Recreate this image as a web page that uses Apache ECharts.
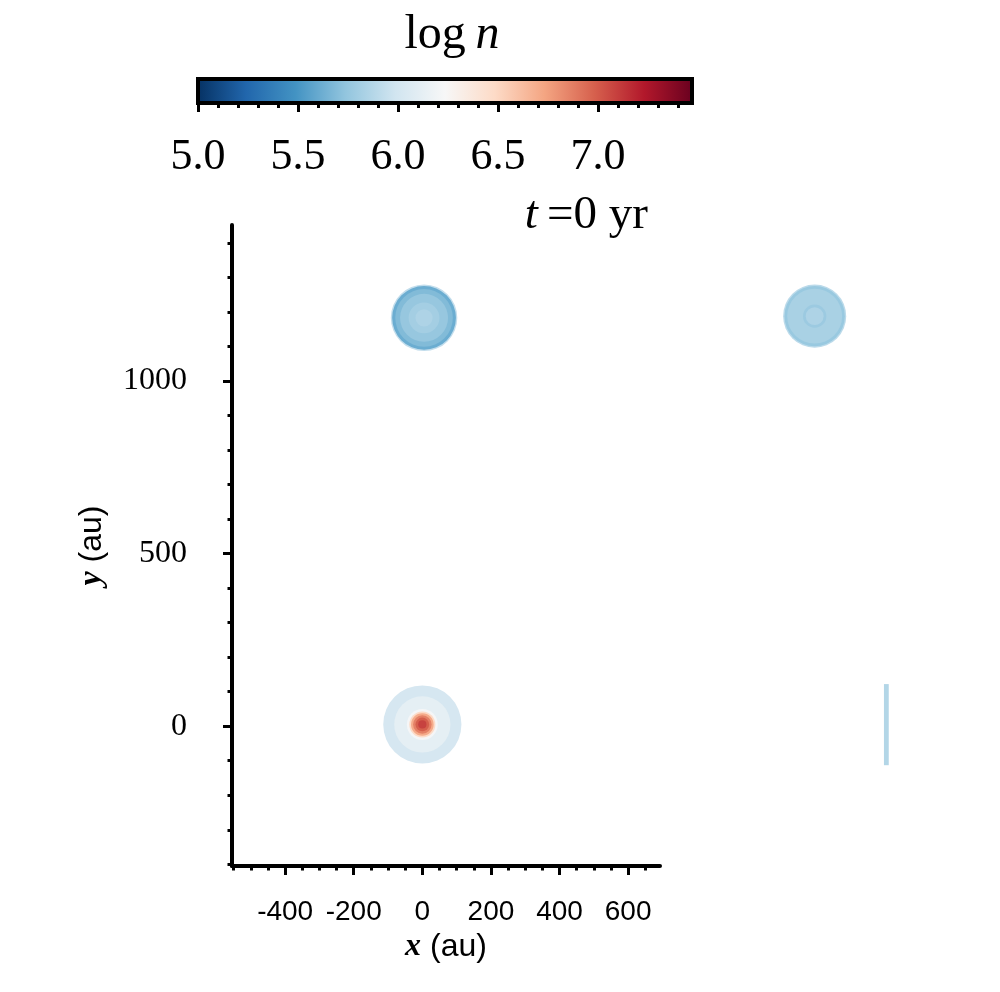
<!DOCTYPE html>
<html>
<head>
<meta charset="utf-8">
<title>log n, t=0 yr</title>
<script src="https://cdn.jsdelivr.net/npm/echarts@6.0.0/dist/echarts.min.js"></script>
<style>
html, body { margin: 0; padding: 0; background: #fff; }
#chart { width: 1000px; height: 992px; }
</style>
</head>
<body>
<div id="chart"></div>
<script>
// colour scale (log n)
var cbarMin = 5.0;
var cbarMax = 7.47;
var cbarMajor = [5.0, 5.5, 6.0, 6.5, 7.0];
var cbarMinor = [5.0, 5.1, 5.2, 5.3, 5.4, 5.5, 5.6, 5.7, 5.8, 5.9, 6.0, 6.1, 6.2,
                 6.3, 6.4, 6.5, 6.6, 6.7, 6.8, 6.9, 7.0, 7.1, 7.2, 7.3, 7.4];
var rdbuR = ['#053061', '#2166ac', '#4393c3', '#92c5de', '#d1e5f0', '#f7f7f7',
             '#fddbc7', '#f4a582', '#d6604d', '#b2182b', '#67001f'];

// axis ticks (au)
var xMajor = [-400, -200, 0, 200, 400, 600];
var xMinor = [-550, -500, -450, -400, -350, -300, -250, -200, -150, -100, -50, 0, 50,
              100, 150, 200, 250, 300, 350, 400, 450, 500, 550, 600, 650];
var yMajor = [0, 500, 1000];
var yMinor = [-400, -300, -200, -100, 0, 100, 200, 300, 400, 500, 600, 700, 800,
              900, 1000, 1100, 1200, 1300, 1400];

// clumps: centre (au), ring radii (au) and log n, outermost ring first
var clumpX = [5, 0, 1144];
var clumpY = [1183, 5, 1188];
var ringRadius = [
    [97, 93, 84, 70, 45, 25],
    [114, 82, 45, 38, 33, 27, 20, 12],
    [92, 88, 80, 34, 26]
];
var ringLogN = [
    [5.93, 5.62, 5.69, 5.76, 5.81, 5.85],
    [6.02, 6.12, 6.22, 6.48, 6.70, 6.86, 6.98, 7.08],
    [5.90, 5.77, 5.83, 5.78, 5.85]
];

// thin strip at the right edge
var stripX = [1346, 1360];
var stripY = [-113, 122];
var stripLogN = 5.87;

var diskRows = [];
for (var i = 0; i < clumpX.length; i++) {
    for (var j = 0; j < ringRadius[i].length; j++) {
        diskRows.push([ringLogN[i][j], clumpX[i], clumpY[i], ringRadius[i][j]]);
    }
}
var stripRows = [[stripLogN, stripX[0], stripY[0], stripX[1], stripY[1]]];

var serif = 'Liberation Serif';
var sans = 'Liberation Sans';

function renderDisk(params, api) {
    var c = api.coord([api.value(1), api.value(2)]);
    var s = api.size([api.value(3), api.value(3)]);
    return {
        type: 'circle',
        shape: { cx: c[0], cy: c[1], r: s[0] },
        style: { fill: api.visual('color') }
    };
}

function renderStrip(params, api) {
    var p0 = api.coord([api.value(1), api.value(2)]);
    var p1 = api.coord([api.value(3), api.value(4)]);
    return {
        type: 'rect',
        shape: { x: p0[0], y: p1[1], width: p1[0] - p0[0], height: p0[1] - p1[1] },
        style: { fill: api.visual('color') }
    };
}

function renderBar(params, api) {
    var p0 = api.coord([api.value(0), api.value(1)]);
    var p1 = api.coord([api.value(2), api.value(3)]);
    var stops = rdbuR.map(function (c, k) { return { offset: k / (rdbuR.length - 1), color: c }; });
    return {
        type: 'rect',
        shape: { x: p0[0], y: p1[1], width: p1[0] - p0[0], height: p0[1] - p1[1] },
        style: {
            fill: new echarts.graphic.LinearGradient(0, 0, 1, 0, stops),
            stroke: '#000',
            lineWidth: 4
        }
    };
}

var tickStyle = { color: '#000', width: 3 };

var chart = echarts.init(document.getElementById('chart'));
chart.setOption({
    animation: false,
    backgroundColor: '#fff',
    title: [{
        text: '{a|log\u2009}{b|n}',
        left: 447,
        top: 6,
        textAlign: 'center',
        textStyle: {
            rich: {
                a: { fontFamily: serif, fontSize: 48, fontWeight: 'normal', color: '#000' },
                b: { fontFamily: serif, fontSize: 48, fontWeight: 'normal', fontStyle: 'italic', color: '#000' }
            }
        }
    }, {
        text: '{b|t}{a|\u2009=0 yr}',
        right: 347,
        top: 187,
        textStyle: {
            rich: {
                a: { fontFamily: serif, fontSize: 47, fontWeight: 'normal', color: '#000' },
                b: { fontFamily: serif, fontSize: 47, fontWeight: 'normal', fontStyle: 'italic', color: '#000' }
            }
        }
    }],
    visualMap: {
        type: 'continuous',
        show: false,
        min: cbarMin,
        max: cbarMax,
        dimension: 0,
        seriesIndex: [0, 1],
        inRange: { color: rdbuR }
    },
    grid: [
        { left: 232, top: 225, width: 428, height: 641 },
        { left: 198, top: 79, width: 494, height: 24 }
    ],
    xAxis: [{
        gridIndex: 0, type: 'value', min: -555, max: 693, position: 'bottom',
        axisLine: { onZero: false, lineStyle: { color: '#000', width: 4 } },
        axisTick: { customValues: xMajor, length: 9, lineStyle: tickStyle },
        axisLabel: { customValues: xMajor, margin: 32, fontFamily: sans, fontSize: 28, color: '#000' },
        splitLine: { show: false },
        name: '{b|x}{s| (au)}',
        nameLocation: 'middle',
        nameGap: 63,
        nameTextStyle: {
            rich: {
                b: { fontFamily: serif, fontSize: 32, fontWeight: 'bold', fontStyle: 'italic', color: '#000' },
                s: { fontFamily: sans, fontSize: 32, color: '#000' }
            }
        }
    }, {
        gridIndex: 0, type: 'value', min: -555, max: 693, position: 'bottom',
        axisLine: { show: false, onZero: false },
        axisTick: { customValues: xMinor, length: 4.5, lineStyle: tickStyle },
        axisLabel: { show: false },
        splitLine: { show: false }
    }, {
        gridIndex: 1, type: 'value', min: cbarMin, max: cbarMax, position: 'bottom',
        axisLine: { show: false, onZero: false },
        axisTick: { customValues: cbarMajor, length: 9, lineStyle: tickStyle },
        axisLabel: {
            customValues: cbarMajor, margin: 32, fontFamily: serif, fontSize: 44, color: '#000',
            formatter: function (v) { return v.toFixed(1); }
        },
        splitLine: { show: false }
    }, {
        gridIndex: 1, type: 'value', min: cbarMin, max: cbarMax, position: 'bottom',
        axisLine: { show: false, onZero: false },
        axisTick: { customValues: cbarMinor, length: 5, lineStyle: tickStyle },
        axisLabel: { show: false },
        splitLine: { show: false }
    }],
    yAxis: [{
        gridIndex: 0, type: 'value', min: -405, max: 1452, position: 'left',
        axisLine: { show: true, onZero: false, lineStyle: { color: '#000', width: 4 } },
        axisTick: { show: true, customValues: yMajor, length: 9, lineStyle: tickStyle },
        axisLabel: {
            customValues: yMajor, margin: 45, fontFamily: serif, fontSize: 32, color: '#000',
            formatter: function (v) { return String(v); }
        },
        splitLine: { show: false },
        name: '{b|y}{s| (au)}',
        nameLocation: 'middle',
        nameGap: 124,
        nameTextStyle: {
            rich: {
                b: { fontFamily: serif, fontSize: 32, fontWeight: 'bold', fontStyle: 'italic', color: '#000' },
                s: { fontFamily: sans, fontSize: 32, color: '#000' }
            }
        }
    }, {
        gridIndex: 0, type: 'value', min: -405, max: 1452, position: 'left',
        axisLine: { show: false, onZero: false },
        axisTick: { show: true, customValues: yMinor, length: 4.5, lineStyle: tickStyle },
        axisLabel: { show: false },
        splitLine: { show: false }
    }, {
        gridIndex: 1, type: 'value', min: 0, max: 1, show: false
    }],
    series: [{
        type: 'custom',
        name: 'clumps',
        xAxisIndex: 0, yAxisIndex: 0,
        renderItem: renderDisk,
        encode: { x: 1, y: 2 },
        clip: false,
        silent: true,
        data: diskRows
    }, {
        type: 'custom',
        name: 'strip',
        xAxisIndex: 0, yAxisIndex: 0,
        renderItem: renderStrip,
        encode: { x: [1, 3], y: [2, 4] },
        clip: false,
        silent: true,
        data: stripRows
    }, {
        type: 'custom',
        name: 'colorbar',
        xAxisIndex: 2, yAxisIndex: 2,
        renderItem: renderBar,
        encode: { x: [0, 2], y: [1, 3] },
        clip: false,
        silent: true,
        data: [[cbarMin, 0, cbarMax, 1]]
    }]
});
</script>
</body>
</html>
